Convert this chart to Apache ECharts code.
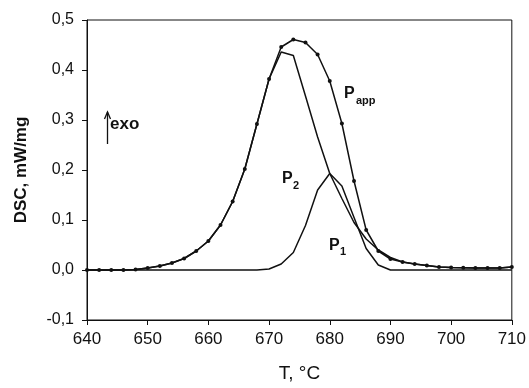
<!DOCTYPE html>
<html>
<head>
<meta charset="utf-8">
<script src="https://cdn.jsdelivr.net/npm/echarts@6/dist/echarts.min.js"></script>
<style>
html,body{margin:0;padding:0;background:#fff;}
#c{width:529px;height:388px;}
</style>
</head>
<body>
<div id="c"></div>
<script>
// Temperature grid (°C)
const temps = [640,642,644,646,648,650,652,654,656,658,660,662,664,666,668,670,
               672,674,676,678,680,682,684,686,688,690,692,694,696,698,700,702,704,706,708,710];
// Apparent (measured) DSC curve, mW/mg
const pApp = [0,0,0,0,0.001,0.004,0.008,0.014,0.023,0.038,0.058,0.09,0.137,0.202,0.292,0.382,
              0.446,0.461,0.455,0.431,0.378,0.293,0.178,0.080,0.038,0.022,0.016,0.012,0.009,0.006,0.005,0.0045,0.004,0.004,0.004,0.006];
// Deconvoluted peak P2
const p2 = [0,0,0,0,0.001,0.004,0.008,0.014,0.023,0.038,0.058,0.09,0.137,0.202,0.292,0.382,
            0.436,0.429,0.348,0.266,0.193,0.143,0.095,0.062,0.040,0.025,0.016,0.012,0.009,0.006,0.005,0.0045,0.004,0.004,0.004,0.006];
// Deconvoluted peak P1
const p1 = [0,0,0,0,0,0,0,0,0,0,0,0,0,0,0,0.002,
            0.012,0.035,0.089,0.160,0.193,0.168,0.105,0.043,0.010,0,0,0,0,0,0,0,0,0,0,0];
const xTicks = [640,650,660,670,680,690,700,710];
const yTicks = [-0.1,0,0.1,0.2,0.3,0.4,0.5];

const pair = arr => temps.map((t,i)=>[t,arr[i]]);
const INK = '#111';
const FONT = '"Liberation Sans", Arial, sans-serif';

const chart = echarts.init(document.getElementById('c'), null, {renderer:'canvas'});
const fmtY = v => (Math.abs(v) < 1e-9 ? 0 : v).toFixed(1).replace('.', ',');

chart.setOption({
  animation:false,
  backgroundColor:'#fff',
  grid:{left:87, right:15, top:20, bottom:62, show:true, borderColor:INK, borderWidth:1},
  xAxis:{
    type:'value', min:xTicks[0], max:xTicks[xTicks.length-1], interval:10,
    name:'T, °C', nameLocation:'middle', nameGap:44,
    nameTextStyle:{fontFamily:FONT, fontSize:19, color:INK},
    axisLine:{show:true, onZero:false, lineStyle:{color:INK, width:1}},
    axisTick:{show:true, inside:false, length:5, lineStyle:{color:INK}},
    axisLabel:{fontFamily:FONT, fontSize:17, color:INK, margin:11},
    splitLine:{show:false}
  },
  yAxis:{
    type:'value', min:yTicks[0], max:yTicks[yTicks.length-1], interval:0.1,
    name:'DSC, mW/mg', nameLocation:'middle', nameGap:57,
    nameTextStyle:{fontFamily:FONT, fontSize:17, fontWeight:'bold', color:INK},
    axisLine:{show:true, onZero:false, lineStyle:{color:INK, width:1}},
    axisTick:{show:true, inside:false, length:5, lineStyle:{color:INK}},
    axisLabel:{fontFamily:FONT, fontSize:16, color:INK, margin:13, formatter:fmtY},
    splitLine:{show:false}
  },
  series:[
    {name:'P1', type:'line', data:pair(p1), showSymbol:false, symbol:'none',
     lineStyle:{color:INK, width:1.5}, z:2},
    {name:'P2', type:'line', data:pair(p2), showSymbol:false, symbol:'none',
     lineStyle:{color:INK, width:1.5}, z:2},
    {name:'Papp', type:'line', data:pair(pApp), symbol:'circle', symbolSize:4, showSymbol:true,
     itemStyle:{color:INK}, lineStyle:{color:INK, width:1.5}, z:3}
  ],
  graphic:[
    {type:'text', left:344, top:86, style:{text:'P', font:'bold 16px '+FONT, fill:INK}},
    {type:'text', left:356, top:95, style:{text:'app', font:'bold 11px '+FONT, fill:INK}},
    {type:'text', left:282, top:171, style:{text:'P', font:'bold 16px '+FONT, fill:INK}},
    {type:'text', left:293, top:180, style:{text:'2', font:'bold 11px '+FONT, fill:INK}},
    {type:'text', left:329, top:238, style:{text:'P', font:'bold 16px '+FONT, fill:INK}},
    {type:'text', left:340, top:246, style:{text:'1', font:'bold 11px '+FONT, fill:INK}},
    {type:'text', left:110, top:116, style:{text:'exo', font:'bold 17px '+FONT, fill:INK}},
    {type:'line', shape:{x1:107.5, y1:144, x2:107.5, y2:112}, style:{stroke:INK, lineWidth:1.3}},
    {type:'polyline', shape:{points:[[104.5,119],[107.5,112],[110.5,119]]}, style:{stroke:INK, lineWidth:1.3, fill:null}}
  ]
});
</script>
</body>
</html>
